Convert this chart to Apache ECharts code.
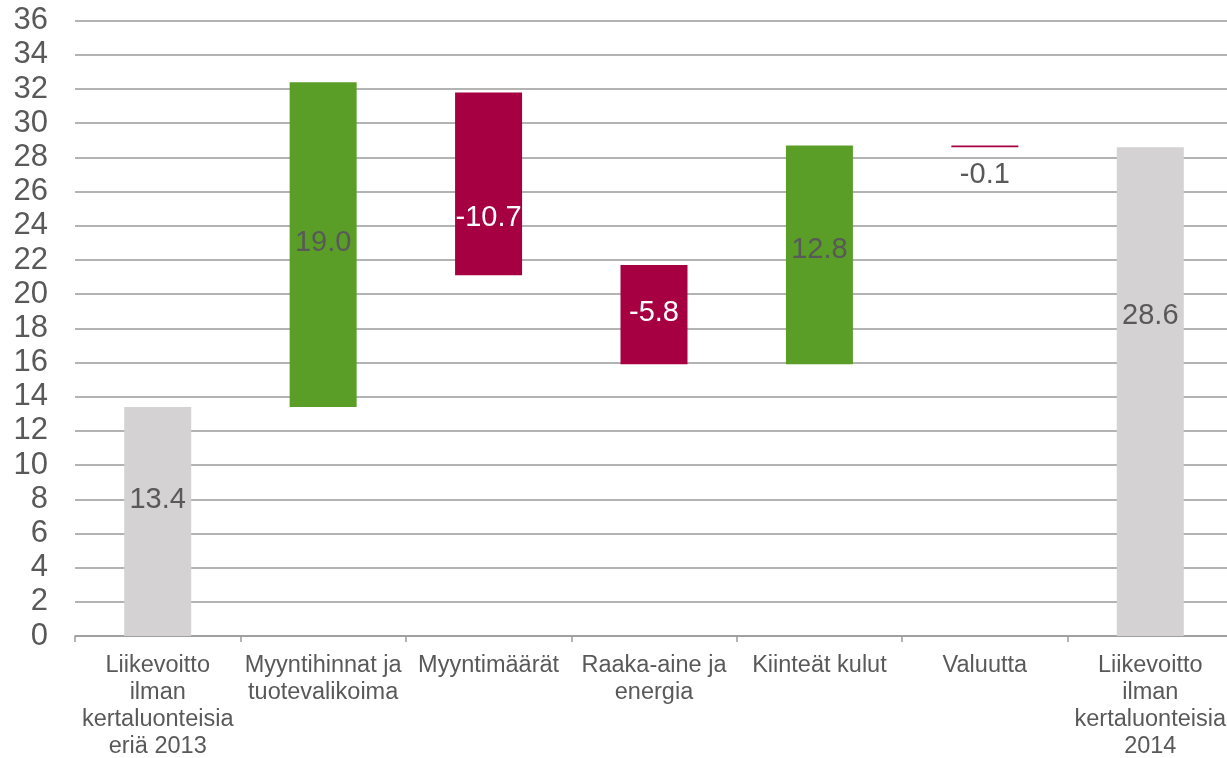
<!DOCTYPE html>
<html>
<head>
<meta charset="utf-8">
<script src="https://cdn.jsdelivr.net/npm/echarts@6/dist/echarts.min.js"></script>
<style>html,body{margin:0;padding:0;background:#fff}#c{width:1227px;height:758px}</style>
</head>
<body>
<div id="c"></div>
<script>
const categories = [
  'Liikevoitto\nilman\nkertaluonteisia\neriä 2013',
  'Myyntihinnat ja\ntuotevalikoima',
  'Myyntimäärät',
  'Raaka-aine ja\nenergia',
  'Kiinteät kulut',
  'Valuutta',
  'Liikevoitto\nilman\nkertaluonteisia\n2014'
];
const bases  = [0, 13.4, 21.1, 15.9, 15.9, 28.6, 0];
const values = [13.4, 19.0, 10.7, 5.8, 12.8, 0.1, 28.6];
const valueLabels = ['13.4', '19.0', '-10.7', '-5.8', '12.8', '-0.1', '28.6'];
const kinds = ['total', 'up', 'down', 'down', 'up', 'down', 'total'];
const yTicks = { min: 0, max: 36, interval: 2 };

const colors = { total: '#d4d2d3', up: '#5a9e28', down: '#a70042' };
const labelStyle = {
  total: { color: '#595959' },
  up: { color: '#595959' },
  down: { color: '#ffffff' }
};
const labelOffsets = [[0, -21], [0, -2], [0, 34], [0, -2], [0, -5], [0, 0], [0, -76]];

const chart = echarts.init(document.getElementById('c'), null, { renderer: 'canvas' });
const font = '"Liberation Sans", Arial, sans-serif';

chart.setOption({
  animation: false,
  textStyle: { fontFamily: font },
  grid: { left: 75, width: 1158, top: 20.7, bottom: 122, containLabel: false, outerBoundsMode: 'none' },
  xAxis: {
    type: 'category',
    data: categories,
    axisLine: { lineStyle: { color: '#9a9a9a', width: 1.5 } },
    axisTick: { show: true, length: 6, lineStyle: { color: '#9a9a9a', width: 1.5 } },
    axisLabel: { color: '#595959', fontSize: 23.5, lineHeight: 27, margin: 16, interval: 0, fontFamily: font }
  },
  yAxis: {
    type: 'value',
    min: yTicks.min, max: yTicks.max, interval: yTicks.interval,
    axisLine: { show: false },
    axisTick: { show: false },
    axisLabel: { color: '#595959', fontSize: 31, margin: 27, fontFamily: font },
    splitLine: { lineStyle: { color: '#9a9a9a', width: 1.5 } }
  },
  series: [
    {
      type: 'bar', stack: 'w', barWidth: 67, silent: true,
      itemStyle: { color: 'rgba(0,0,0,0)' },
      data: bases
    },
    {
      type: 'bar', stack: 'w', barWidth: 67,
      data: values.map((v, i) => ({
        value: v,
        itemStyle: { color: colors[kinds[i]] },
        label: i === 5 ? {
          show: true, position: 'bottom', distance: 13,
          color: '#595959', fontSize: 29, fontFamily: font,
          formatter: () => valueLabels[i]
        } : {
          show: true, position: 'inside', offset: labelOffsets[i],
          color: labelStyle[kinds[i]].color, fontSize: 29, fontFamily: font,
          formatter: () => valueLabels[i]
        }
      }))
    }
  ]
});
</script>
</body>
</html>
